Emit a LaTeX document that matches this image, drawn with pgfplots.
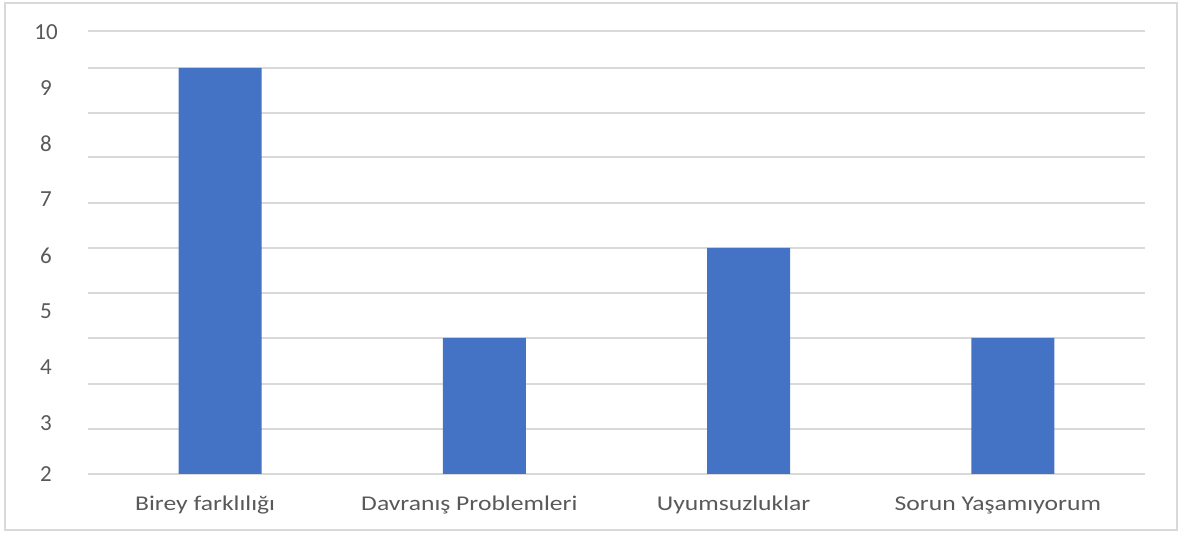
\documentclass[border=0pt]{standalone}
\usepackage{pgfplots}
\pgfplotsset{compat=1.18}
\usepackage{fontspec}
\setmainfont{Carlito}
\definecolor{barblue}{HTML}{4472C4}
\definecolor{gridgray}{HTML}{D9D9D9}
\definecolor{textgray}{HTML}{595959}
\begin{document}
\begin{tikzpicture}
\begin{axis}[
    scale only axis,
    width=528.5pt,
    height=221.85pt,
    xmin=-0.5, xmax=3.5,
    ymin=2.089, ymax=10.03,
    xtick={0,1,2,3},
    xticklabels={Birey farklılığı, Davranış Problemleri, Uyumsuzluklar, Sorun Yaşamıyorum},
    ytick={2.089,3,4,5,6,7,8,9,10},
    yticklabels={2,3,4,5,6,7,8,9,10},
    extra y ticks={2.089,2.894,3.700,4.523,5.329,6.134,6.940,7.763,8.550,9.356,10.018},
    extra y tick labels={},
    extra y tick style={grid=major, major tick length=0pt},
    major grid style={draw=gridgray, line width=1pt},
    axis line style={draw=none},
    major tick length=0pt,
    tick label style={font=\fontsize{10.5}{12}\selectfont, text=textgray},
    yticklabel style={anchor=center, xshift=-21pt, font=\fontsize{11.5}{13}\selectfont},
    xticklabel style={anchor=center, yshift=-15.5pt, xshift=-7.5pt, xscale=1.22},
    /pgf/number format/assume math mode=true,
    ybar,
    bar width=41.5pt,
]
\addplot[fill=barblue, draw=none] coordinates {
    (0,9.356) (1,4.523) (2,6.134) (3,4.523)
};
\end{axis}
\draw[gridgray, line width=0.8pt] ([xshift=-41.5pt,yshift=-28pt]current axis.south west) rectangle ([xshift=544.5pt,yshift=235.5pt]current axis.south west);
\path[use as bounding box] ([xshift=-44pt,yshift=-29.5pt]current axis.south west) rectangle ([xshift=547pt,yshift=237pt]current axis.south west);
\end{tikzpicture}
\end{document}
